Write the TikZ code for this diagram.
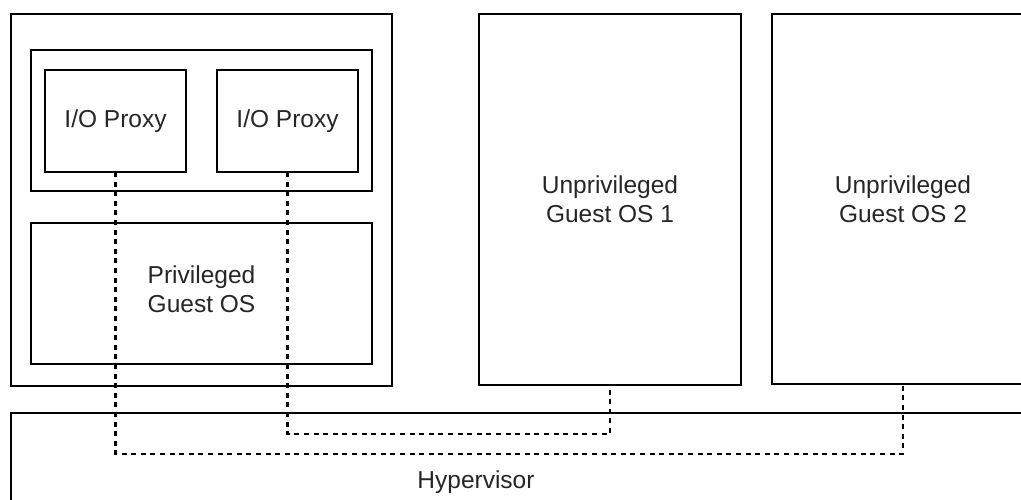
\documentclass[tikz,border=0pt]{standalone}
\usepackage{fontspec}
\setmainfont{Liberation Sans}
\begin{document}
\begin{tikzpicture}[x=1pt,y=-1pt,
  box/.style={draw=black, line width=2pt, fill=white, inner sep=0pt, outer sep=0pt,
              align=center, text=black!85, font=\fontsize{24.5}{29}\selectfont},
  link/.style={draw=black, line width=2.2pt, dash pattern=on 5pt off 4.6pt}
]
\useasboundingbox (0,0) rectangle (1021,500);
\clip (0,0) rectangle (1021,500);

% control domain with its two I/O proxies
\node[box, minimum width=381pt, minimum height=372pt] (host) at (201.5,200) {};
\node[box, minimum width=341pt, minimum height=141pt] (proxyarea) at (201.5,120.5) {};
\node[box, minimum width=141pt, minimum height=102pt] (io1) at (115.5,121) {I/O Proxy};
\node[box, minimum width=141pt, minimum height=102pt] (io2) at (287.5,121) {I/O Proxy};
\node[box, minimum width=341pt, minimum height=141pt] (priv) at (201.5,293.5) {};
\node[text=black!85, font=\fontsize{24.5}{29}\selectfont, align=center] (privlabel) at (201.5,289) {Privileged\\Guest OS};

% unprivileged guests
\node[box, minimum width=262pt, minimum height=371pt] (guest1) at (610,199.5) {Unprivileged\\Guest OS 1};
\node[box, minimum width=262pt, minimum height=370pt] (guest2) at (903,199) {Unprivileged\\Guest OS 2};

% hypervisor layer
\node[box, minimum width=1060pt, minimum height=140pt, anchor=north west] (hyper) at (11,413) {};
\node[text=black!85, font=\fontsize{24.5}{29}\selectfont] (hyperlabel) at (476,482.5) {Hypervisor};

% I/O paths through the hypervisor
\coordinate (bus1) at (500,454);
\coordinate (bus2) at (450,434);
\draw[link] (io1.south) |- (bus1) -| (guest2.south);
\draw[link] (io2.south) |- (bus2) -| (guest1.south);
\end{tikzpicture}
\end{document}
